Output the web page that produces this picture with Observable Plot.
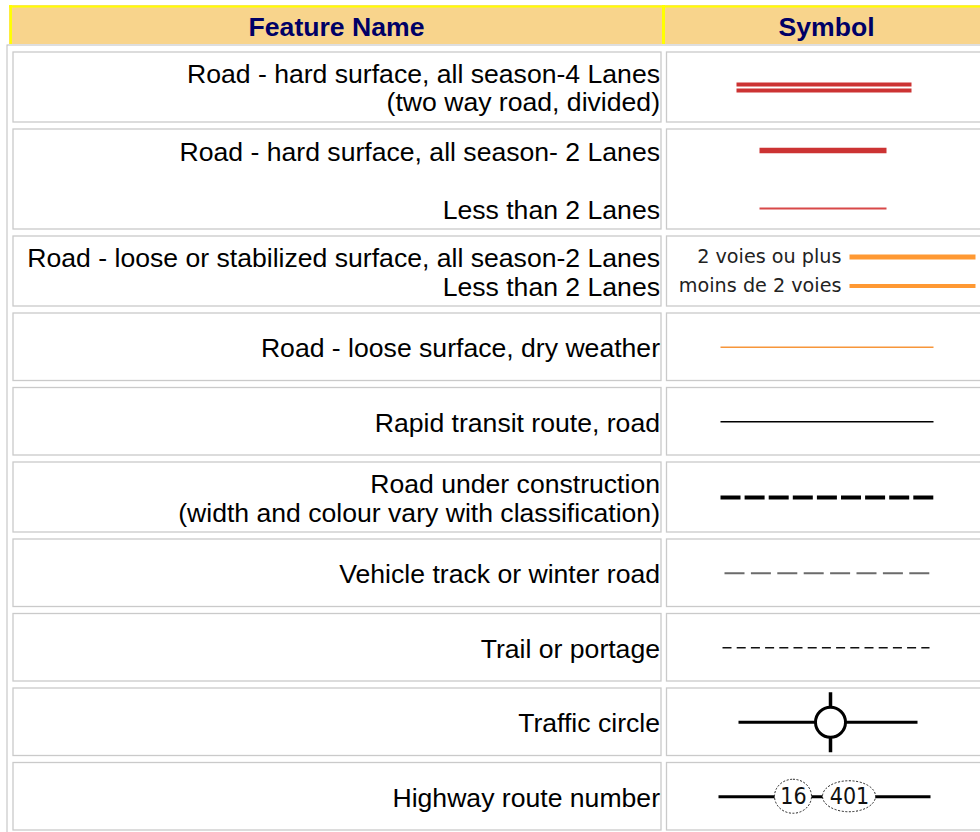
<!DOCTYPE html>
<html><head><meta charset="utf-8">
<script src="https://cdn.jsdelivr.net/npm/d3@7"></script>
<script src="https://cdn.jsdelivr.net/npm/@observablehq/plot@0.6"></script>
<style>html,body{margin:0;padding:0;background:#fff;} svg{display:block;}</style>
</head><body><div id="chart"></div><script>
// ---------- data ----------
const headers = ["Feature Name", "Symbol"];
const featureNames = [
  ["Road - hard surface, all season-4 Lanes", "(two way road, divided)"],
  ["Road - hard surface, all season- 2 Lanes", "", "Less than 2 Lanes"],
  ["Road - loose or stabilized surface, all season-2 Lanes", "Less than 2 Lanes"],
  ["Road - loose surface, dry weather"],
  ["Rapid transit route, road"],
  ["Road under construction", "(width and colour vary with classification)"],
  ["Vehicle track or winter road"],
  ["Trail or portage"],
  ["Traffic circle"],
  ["Highway route number"]
];
const symbolKinds = ["double", "hard2", "loose2", "dry", "transit", "construction", "track", "trail", "circle", "route"];
const looseLabels = ["2 voies ou plus", "moins de 2 voies"];
const routeNumbers = ["16", "401"];

// ---------- layout ----------
const W = 980, H = 832;
const TOP = 52, GAP = 7, LINE_H = 29, LINE_H_TIGHT = 28.5;
const LEFT_X1 = 13, LEFT_X2 = 661, RIGHT_X1 = 666.5, RIGHT_X2 = 1010;
const TEXT_RIGHT = 659.5;
const C = 824;
const RED = "#cc3333", ORANGE = "#ff9933";
const SANS = "'Liberation Sans', Arial, Helvetica, sans-serif";
const FS = 26.6;

let yCursor = TOP;
const rows = featureNames.map((lines, i) => {
  const h = Math.max(67.5, 30 * lines.length + 10);
  const r = {i, lines, kind: symbolKinds[i], y1: yCursor, y2: yCursor + h, cy: yCursor + h / 2,
             lh: i === 0 ? LINE_H_TIGHT : LINE_H, off: i === 0 ? -0.5 : 0};
  yCursor += h + GAP;
  return r;
});
const lineCenter = (r, j) => r.cy + r.off + (j - (r.lines.length - 1) / 2) * r.lh;

const cells = rows.flatMap(r => [
  {x1: LEFT_X1, x2: LEFT_X2, y1: r.y1, y2: r.y2},
  {x1: RIGHT_X1, x2: RIGHT_X2, y1: r.y1, y2: r.y2}
]);
const textLines = rows.flatMap(r => r.lines.map((t, j) => ({text: t, x: TEXT_RIGHT, y: lineCenter(r, j)}))).filter(d => d.text);

const segs = [], dots = [], ovals = [], labels = [];
function hseg(x1, x2, y, w, stroke, dash) { segs.push({x1, x2, y1: y, y2: y, w, stroke, dash}); }
rows.forEach(r => {
  const cy = r.cy;
  switch (r.kind) {
    case "double":
      hseg(C - 88, C + 87, cy - 3, 4, RED); hseg(C - 88, C + 87, cy + 3, 4, RED); break;
    case "hard2":
      hseg(C - 65, C + 62, lineCenter(r, 0), 5.5, RED);
      hseg(C - 65, C + 62, lineCenter(r, 2), 2, "#d84848"); break;
    case "loose2":
      looseLabels.forEach((t, j) => {
        const y = lineCenter(r, j);
        labels.push({x: C + 17, y, text: t});
        hseg(C + 25, C + 151, y, j ? 4 : 5, ORANGE);
      }); break;
    case "dry": hseg(C - 104, C + 109, cy, 1.5, "#f7963a"); break;
    case "transit": hseg(C - 104, C + 109, cy, 1.4, "#000"); break;
    case "construction": hseg(C - 104, C + 109, cy, 4, "#000", "20,4.1"); break;
    case "track": hseg(C - 100, C + 105, cy, 2, "#6b6b6b", "20,6.4"); break;
    case "trail": hseg(C - 102, C + 105, cy, 1.5, "#111", "9,5.2"); break;
    case "circle":
      hseg(C - 86, C + 93, cy, 3, "#000");
      segs.push({x1: C + 6, x2: C + 6, y1: cy - 30, y2: cy + 30, w: 3.5, stroke: "#000"});
      dots.push({x: C + 6, y: cy}); break;
    case "route": {
      hseg(C - 106, C + 106, cy, 3, "#000");
      const ws = routeNumbers.map(s => 16 * s.length + 5);
      const total = d3.sum(ws) + 11 * (ws.length - 1);
      let xs = C + 1 - total / 2;
      routeNumbers.forEach((s, k) => {
        const w = ws[k], h = 40 - 3 * s.length;
        ovals.push({x1: xs, x2: xs + w, y1: cy - h / 2, y2: cy + h / 2, w, h, cx: xs + w / 2, cy, text: s});
        xs += w + 11;
      });
      break;
    }
  }
});

const HEADER = {x1: 9, x2: 1010, y1: 5, y2: 44, div: 663};
const headerCells = [
  {text: headers[0], x: (HEADER.x1 + HEADER.div) / 2, y: 27},
  {text: headers[1], x: 826, y: 27}
];

// ---------- plot ----------
const marks = [
  Plot.rect([{x1: 7, x2: 1010, y1: 45, y2: 900}], {x1: "x1", x2: "x2", y1: "y1", y2: "y2", fill: "white", stroke: "#bdbdbd", strokeWidth: 1}),
  Plot.rect([HEADER], {x1: "x1", x2: "x2", y1: "y1", y2: "y2", fill: "#f8d48c"}),
  Plot.ruleY([HEADER], {y: d => d.y1 + 1, x1: "x1", x2: "x2", stroke: "#ffff00", strokeWidth: 2}),
  Plot.ruleX([HEADER], {x: d => d.x1 + 1.2, y1: "y1", y2: "y2", stroke: "#ffff00", strokeWidth: 2.5}),
  Plot.ruleX([HEADER], {x: "div", y1: "y1", y2: "y2", stroke: "#ffff00", strokeWidth: 3}),
  Plot.text(headerCells, {x: "x", y: "y", text: "text", fill: "#000066", fontWeight: "bold", fontSize: FS, fontFamily: SANS, lineAnchor: "middle"}),
  Plot.rect(cells, {x1: "x1", x2: "x2", y1: "y1", y2: "y2", fill: "white", stroke: "#cacaca", strokeWidth: 1.3}),
  Plot.text(textLines, {x: "x", y: "y", text: "text", textAnchor: "end", lineAnchor: "middle", dy: 1.5, fontSize: FS, fontFamily: SANS, fill: "#000"}),
  Plot.text(labels, {x: "x", y: "y", text: "text", textAnchor: "end", lineAnchor: "middle", fontSize: 19.2, fontFamily: "'DejaVu Sans', Verdana, sans-serif", fill: "#222"}),
  ...segs.map(s => Plot.link([s], {x1: "x1", x2: "x2", y1: "y1", y2: "y2", stroke: s.stroke, strokeWidth: s.w, strokeDasharray: s.dash, strokeLinecap: "butt"})),
  Plot.dot(dots, {x: "x", y: "y", r: 15, fill: "white", stroke: "#000", strokeWidth: 3}),
  ...ovals.map(o => Plot.rect([o], {x1: "x1", x2: "x2", y1: "y1", y2: "y2", rx: o.w / 2, ry: o.h / 2, fill: "white", stroke: "#222", strokeWidth: 1, strokeDasharray: "2,1.6"})),
  Plot.text(ovals, {x: "cx", y: "cy", text: "text", lineAnchor: "middle", fontSize: 23, fontFamily: "'Liberation Sans Narrow', 'DejaVu Sans Condensed', Arial, sans-serif", fill: "#111"})
];

const chart = Plot.plot({
  width: W, height: H,
  margin: 0,
  x: {domain: [0, W], range: [0, W], axis: null},
  y: {domain: [0, H], range: [0, H], axis: null},
  style: {background: "white", overflow: "hidden"},
  marks
});
document.getElementById("chart").appendChild(chart);
</script></body></html>
